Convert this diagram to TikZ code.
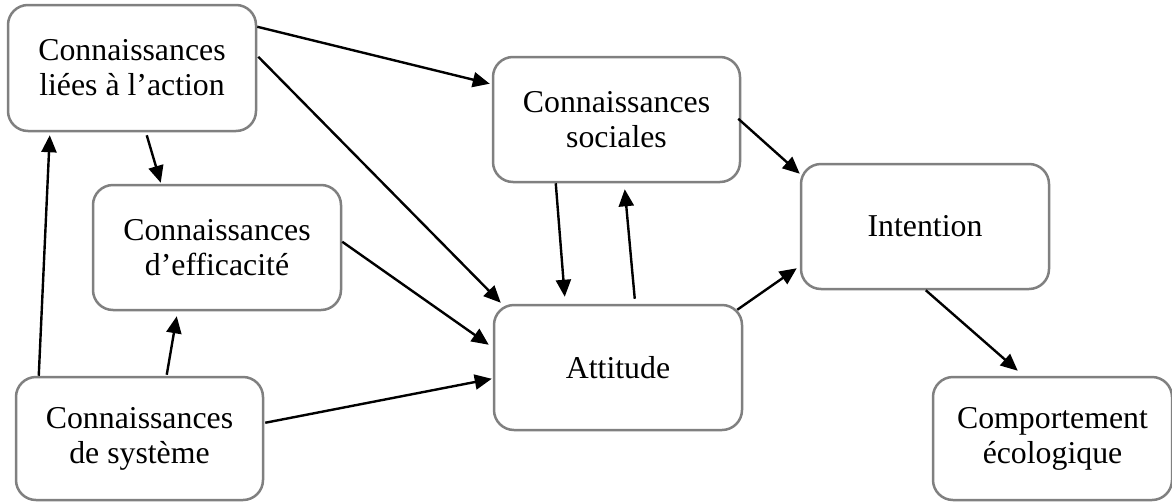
\documentclass[tikz,border=0pt]{standalone}
\usepackage{fontspec}
\setmainfont{Liberation Serif}
\usetikzlibrary{arrows.meta,calc}
\definecolor{boxgray}{RGB}{128,128,128}
\tikzset{
  concept/.style={draw=boxgray, line width=2.5pt, rounded corners=20pt, fill=white,
    align=center, inner sep=0pt,
    font=\fontsize{31.8pt}{35pt}\selectfont},
  link/.style={line width=2.4pt, -{Triangle[length=17pt,width=15pt]}}
}
\begin{document}
\begin{tikzpicture}[x=1pt,y=-1pt]
\useasboundingbox (0,0) rectangle (1172,501);

% concepts
\node[concept, minimum width=248pt, minimum height=126pt] (act) at (132,68) {Connaissances\\liées à l’action};
\node[concept, minimum width=248pt, minimum height=125pt] (eff) at (217,247.5) {Connaissances\\d’efficacité};
\node[concept, minimum width=247pt, minimum height=123pt] (sys) at (139.5,438.5) {Connaissances\\de système};
\node[concept, minimum width=247pt, minimum height=125pt] (soc) at (616.5,119.5) {Connaissances\\sociales};
\node[concept, minimum width=248pt, minimum height=125pt] (att) at (618,367.5) {Attitude};
\node[concept, minimum width=248pt, minimum height=125pt] (int) at (925,226.5) {Intention};
\node[concept, minimum width=239pt, minimum height=123pt] (beh) at (1052.5,438.5) {Comportement\\écologique};

% influences
\draw[link] ($(act.north east)+(0,23)$) -- ($(soc.north west)+(-2,28)$);
\draw[link] ($(act.north east)+(1,53)$) -- ($(att.north west)+(8,-1)$);
\draw[link] ($(act.south west)+(140,3)$) -- ($(eff.north west)+(69,-1)$);
\draw[link] ($(sys.north west)+(24,0)$) -- ($(act.south west)+(43,3)$);
\draw[link] ($(sys.north west)+(152,-1)$) -- ($(eff.south west)+(85,5)$);
\draw[link] ($(sys.north east)+(1,47)$) -- ($(att.north west)+(-1,75)$);
\draw[link] ($(eff.north east)+(0,58)$) -- ($(att.north west)+(-4,41)$);
\draw[link] ($(soc.south west)+(64,0)$) -- ($(att.north west)+(72,-7)$);
\draw[link] ($(att.north west)+(142,-5)$) -- ($(soc.south west)+(133,6)$);
\draw[link] ($(soc.north east)+(-3,63)$) -- ($(int.north west)+(0,11)$);
\draw[link] ($(att.north east)+(-6,6)$) -- ($(int.south west)+(-3,-22)$);
\draw[link] ($(int.south west)+(126,0)$) -- ($(beh.north west)+(86,-5)$);
\end{tikzpicture}
\end{document}
